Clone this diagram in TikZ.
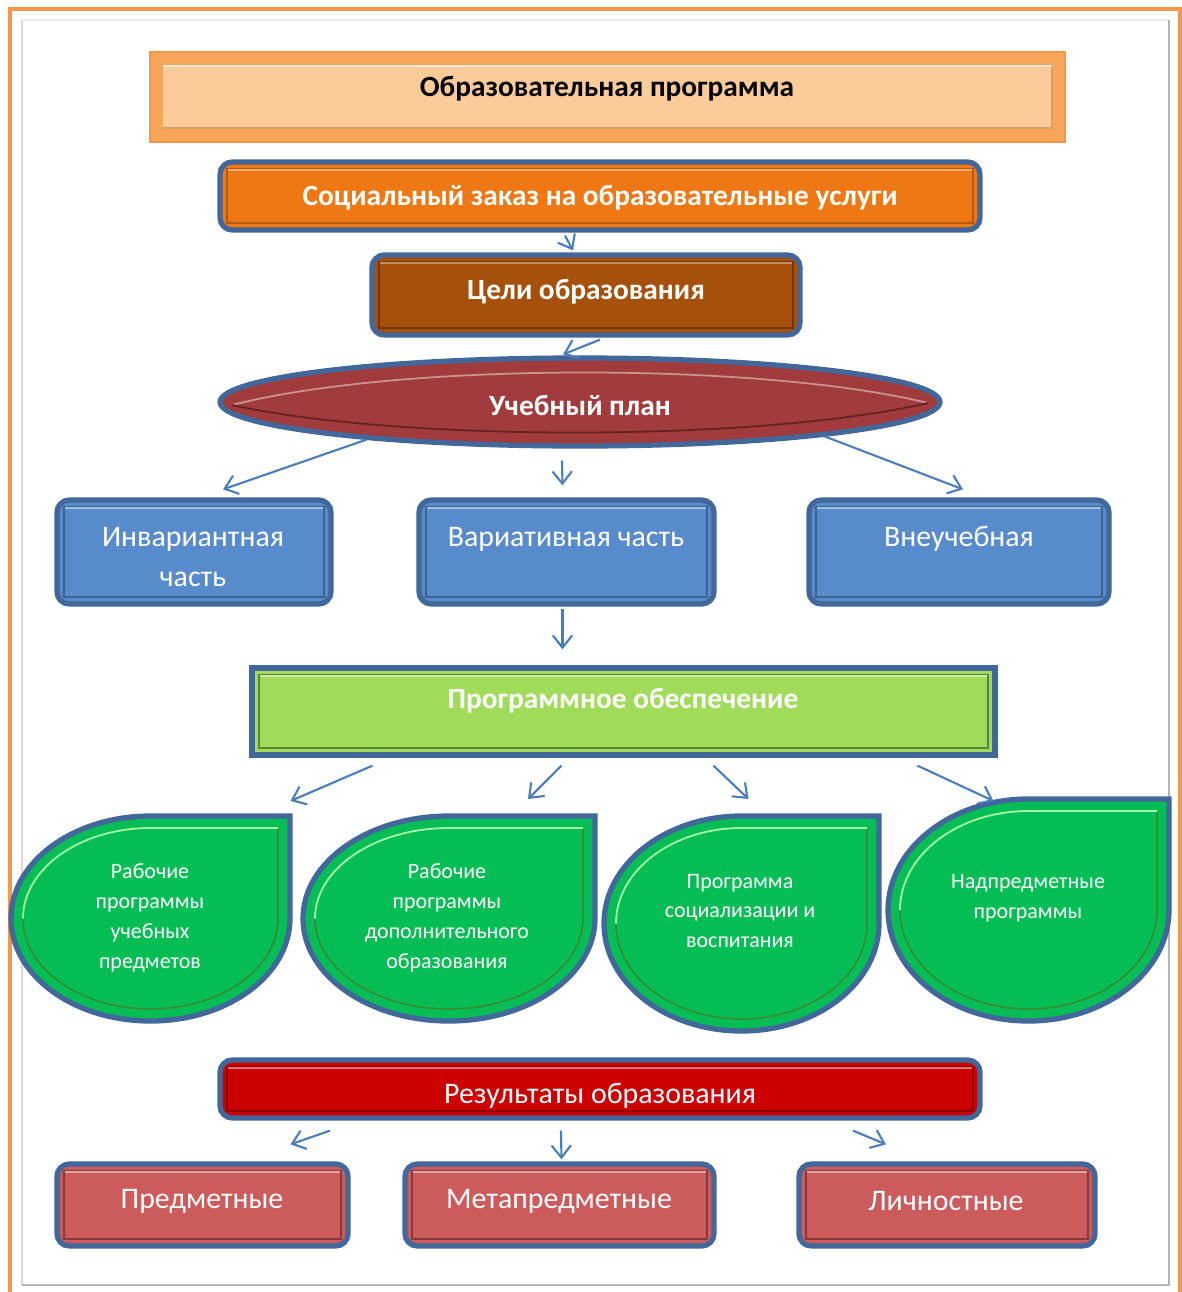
\documentclass[tikz,border=0pt]{standalone}
\usepackage{fontspec}
\setmainfont{Carlito}
\usepackage{xcolor}
\usepackage{tikz}
\usetikzlibrary{arrows.meta,calc,fit,shapes.geometric}

\definecolor{frameorange}{HTML}{F79646}
\definecolor{framegray}{HTML}{B4B4B4}
\definecolor{edgeblue}{HTML}{41679B}
\definecolor{arrblue}{HTML}{4A7EBB}
\definecolor{titleband}{HTML}{F9A65A}
\definecolor{titlefill}{HTML}{FCCB9A}
\definecolor{socfill}{HTML}{F07814}
\definecolor{goalfill}{HTML}{A5500B}
\definecolor{planfill}{HTML}{A23B3B}
\definecolor{partfill}{HTML}{588BCB}
\definecolor{progfill}{HTML}{A0DC5A}
\definecolor{dropfill}{HTML}{05BD55}
\definecolor{resfill}{HTML}{CC0000}
\definecolor{kindfill}{HTML}{CD5B5B}

\tikzset{
  box/.style={draw=edgeblue, line width=3pt, rounded corners=7pt, inner sep=0pt},
  flatbox/.style={draw=edgeblue, line width=3pt, inner sep=0pt},
  drop/.style={draw=edgeblue, line width=3pt, fill=dropfill},
  arr/.style={draw=arrblue, line width=1.2pt, ->},
  btext/.style={text=white, font=\bfseries\fontsize{16.7}{19}\selectfont},
  wtext/.style={text=white, align=center, font=\fontsize{17}{23.2}\selectfont},
  dtext/.style={text=white, align=center, font=\fontsize{12.5}{17}\selectfont}
}

% inner bevel of a box: node, dark line, light line
\newcommand\bevel[3]{%
  \draw[#2, line width=1.2pt] ([shift={(10,-10)}]#1.south west) rectangle ([shift={(-10,10)}]#1.north east);
  \draw[#3, line width=1.2pt] ([shift={(11,11)}]#1.north west) -- ([shift={(-11,11)}]#1.north east);
}

% leaf shape: name, left, top, right, bottom
\newcommand\leaf[5]{%
  \coordinate (#1) at ({(#2+#4)/2},#3);
  \draw[drop] (#4,#3) -- (#4,{(#3+#5)/2})
    arc[start angle=0, end angle=270, x radius={(#4-#2)/2}, y radius={(#5-#3)/2}] -- cycle;
  \draw[green!45!black!80, line width=1pt] (#4-12,#3+12) -- (#4-12,{(#3+#5)/2})
    arc[start angle=0, end angle=180, x radius={(#4-#2)/2-12}, y radius={(#5-#3)/2-12}];
  \draw[green!35!white, line width=1pt] (#2+12,{(#3+#5)/2})
    arc[start angle=180, end angle=270, x radius={(#4-#2)/2-12}, y radius={(#5-#3)/2-12}] -- (#4-12,#3+12);
}

\begin{document}
\begin{tikzpicture}[x=0.02cm, y=-0.02cm, >={Straight Barb[length=7pt,width=11pt]}]
  \useasboundingbox (0,0) rectangle (1182,1292);

  % Frames
  \draw[frameorange, line width=2.5pt] (10,9) rectangle (1180,1320);
  \draw[black!8, line width=1.5pt] (22,20) -- (1169,20);
  \draw[black!15, line width=1.5pt] (22,20) -- (22,1285);
  \draw[framegray, line width=1.5pt] (1169,20) -- (1169,1285) -- (22,1285);

  % Title
  \node[draw=frameorange, line width=1pt, fill=titleband, inner sep=0pt,
        fit={(150,52) (1065,142)}] (title) {};
  \fill[titlefill] (163,65) rectangle (1052,128);
  \draw[brown!60!titlefill, line width=1.2pt] (163,128) -- (1052,128) -- (1052,65);
  \draw[white!60!titlefill, line width=1.2pt] (163,66) -- (1052,66);
  \node[font=\bfseries\fontsize{16.7}{19}\selectfont] (titletext) at (607,89) {Образовательная программа};

  % Social order
  \node[box, fill=socfill, fit={(220,162) (980,230)}] (soc) {};
  \bevel{soc}{socfill!75!black}{socfill!60!white}
  \node[btext] at (600,198) {Социальный заказ на образовательные услуги};

  % Goals
  \node[box, fill=goalfill, fit={(372,255) (800,335)}] (goals) {};
  \bevel{goals}{goalfill!70!black}{goalfill!65!white}
  \node[btext] at (586,292) {Цели образования};

  % Curriculum
  \node[ellipse, draw=edgeblue, line width=3pt, fill=planfill, inner sep=0pt,
        minimum width=14.4cm, minimum height=1.76cm] (plan) at (580,402) {};
  \draw[planfill!55!white, line width=1pt] (232,405) .. controls (400,362) and (760,362) .. (928,403);
  \draw[planfill!60!black, line width=1pt] (232,405) .. controls (400,442) and (760,442) .. (928,403);
  \node[btext] at (580,405) {Учебный план};

  % Parts
  \node[box, fill=partfill, fit={(57,500) (331,604)}] (inv) {};
  \bevel{inv}{partfill!70!black}{partfill!55!white}
  \node[wtext] at (193,557) {Инвариантная\\часть};
  \node[box, fill=partfill, fit={(419,500) (714,604)}] (var) {};
  \bevel{var}{partfill!70!black}{partfill!55!white}
  \node[wtext] at (566,539) {Вариативная часть};
  \node[box, fill=partfill, fit={(809,500) (1109,604)}] (vne) {};
  \bevel{vne}{partfill!70!black}{partfill!55!white}
  \node[wtext] at (959,539) {Внеучебная};

  % Software
  \node[flatbox, fill=progfill, fit={(252,668) (995,755)}] (prog) {};
  \bevel{prog}{progfill!60!black}{progfill!50!white}
  \node[btext] at (623,701) {Программное обеспечение};

  % Programs
  \leaf{d1}{11}{816}{290}{1021}
  \leaf{d2}{303}{816}{595}{1021}
  \leaf{d3}{604}{816}{879}{1031}
  \leaf{d4}{888}{799}{1169}{1021}
  \node[dtext] (rp1) at (150,918) {Рабочие\\программы\\учебных\\предметов};
  \node[dtext] (rp2) at (447,918) {Рабочие\\программы\\дополнительного\\образования};
  \node[dtext] (rp3) at (740,911) {Программа\\социализации и\\воспитания};
  \node[dtext] (rp4) at (1028,898) {Надпредметные\\программы};

  % Results
  \node[box, fill=resfill, fit={(220,1060) (980,1118)}] (res) {};
  \bevel{res}{resfill!70!black}{resfill!55!white}
  \node[wtext] at (600,1096) {Результаты образования};
  \node[box, fill=kindfill, fit={(57,1164) (348,1246)}] (pred) {};
  \bevel{pred}{kindfill!65!black}{kindfill!55!white}
  \node[wtext] at (202,1201) {Предметные};
  \node[box, fill=kindfill, fit={(405,1164) (714,1246)}] (meta) {};
  \bevel{meta}{kindfill!65!black}{kindfill!55!white}
  \node[wtext] at (559,1201) {Метапредметные};
  \node[box, fill=kindfill, fit={(799,1164) (1095,1246)}] (lich) {};
  \bevel{lich}{kindfill!65!black}{kindfill!55!white}
  \node[wtext] at (946,1201) {Личностные};

  % Arrows
  \draw[arr] ($(soc.south)+(-35,3)$) -- ($(goals.north)+(-13,-2)$);
  \draw[arr] ($(goals.south)+(14,2)$) -- ($(plan.north)+(-17,-1)$);
  \draw[arr] (plan.190) -- ($(inv.north)+(29,-8)$);
  \draw[arr] ($(plan.south)+(-18,12)$) -- ($(var.north)+(-4,-12)$);
  \draw[arr] (plan.352) -- ($(vne.north)+(4,-8)$);
  \draw[arr] ($(var.south)+(-4,2)$) -- ($(prog.north)+(-61,-16)$);
  \draw[arr] ($(prog.south)+(-251,8)$) -- ($(d1)+(140,-15)$);
  \draw[arr] ($(prog.south)+(-62,8)$) -- ($(d2)+(79,-17)$);
  \draw[arr] ($(prog.south)+(90,8)$) -- ($(d3)+(7,-17)$);
  \draw[arr] ($(prog.south)+(294,8)$) -- ($(d4)+(-35,2)$);
  \draw[arr] ($(res.south)+(-270,10)$) -- ($(pred.north)+(88,-17)$);
  \draw[arr] ($(res.south)+(-39,10)$) -- ($(meta.north)+(2,-2)$);
  \draw[arr] ($(res.south)+(253,10)$) -- ($(lich.north)+(-61,-17)$);
\end{tikzpicture}
\end{document}
